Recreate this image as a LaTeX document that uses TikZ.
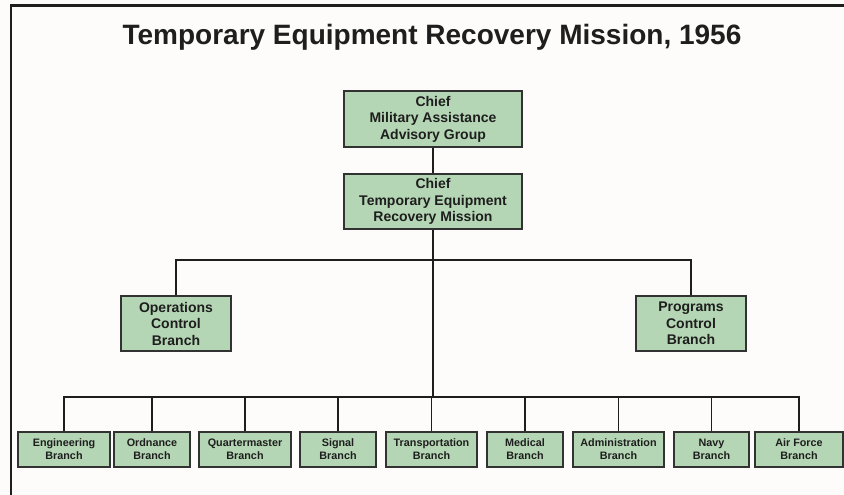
\documentclass[tikz,border=0pt]{standalone}
\usepackage{fontspec}
\setmainfont{Liberation Sans}
\definecolor{boxfill}{RGB}{180,214,180}
\definecolor{boxline}{RGB}{50,50,50}
\definecolor{bg}{RGB}{253,252,250}
\definecolor{ink}{RGB}{30,30,30}
\begin{document}
\begin{tikzpicture}[x=1pt,y=-1pt,
  bigbox/.style={draw=boxline, line width=1.3pt, fill=boxfill, inner sep=0pt, align=center,
    font=\fontsize{14}{16.5}\selectfont\bfseries, text=ink},
  smallbox/.style={draw=boxline, line width=1.3pt, fill=boxfill, inner sep=0pt, align=center,
    minimum height=35pt, font=\fontsize{10.8}{13}\selectfont\bfseries, text=ink},
  conn/.style={draw=ink, line width=1.8pt}]
\useasboundingbox (0,0) rectangle (844,495);
\fill[bg] (0,0) rectangle (844,495);
\draw[ink, line width=2.5pt] (11,495) -- (11,5.5) -- (844,5.5);
\node[font=\fontsize{28}{32}\selectfont\bfseries, text=ink] (title) at (432,37) {Temporary Equipment Recovery Mission, 1956};
% upper boxes
\node[bigbox, minimum width=178pt, minimum height=56pt] (maag) at (433,119) {Chief\\Military Assistance\\Advisory Group};
\node[bigbox, minimum width=178pt, minimum height=55pt] (term) at (433,201.5) {Chief\\Temporary Equipment\\Recovery Mission};
\node[bigbox, minimum width=110pt, minimum height=55pt] (ops) at (176,323.5) {Operations\\Control\\Branch};
\node[bigbox, minimum width=110pt, minimum height=55pt] (prog) at (691,323.5) {Programs\\Control\\Branch};
% bottom row
\node[smallbox, minimum width=92pt] (eng) at (64,449.5) {Engineering\\Branch};
\node[smallbox, minimum width=76pt] (ord) at (152,449.5) {Ordnance\\Branch};
\node[smallbox, minimum width=92pt] (qm) at (245,449.5) {Quartermaster\\Branch};
\node[smallbox, minimum width=76pt] (sig) at (338,449.5) {Signal\\Branch};
\node[smallbox, minimum width=91pt] (trans) at (431.5,449.5) {Transportation\\Branch};
\node[smallbox, minimum width=76pt] (med) at (525,449.5) {Medical\\Branch};
\node[smallbox, minimum width=91pt] (adm) at (618.5,449.5) {Administration\\Branch};
\node[smallbox, minimum width=75pt] (navy) at (711.5,449.5) {Navy\\Branch};
\node[smallbox, minimum width=88pt] (af) at (799,449.5) {Air Force\\Branch};
% connectors
\coordinate (bus) at (433,398);
\draw[conn] (maag.south) -- (term.north);
\draw[conn] (term.south) -- (bus);
\draw[conn] (ops.north) -- ++(0,-35) -| (prog.north);
\draw[conn] (eng.north) -- ++(0,-34) -| (af.north);
\foreach \n in {ord,qm,sig,trans,med,adm,navy}
  \draw[conn] (\n.north) -- (\n.north |- bus);
\end{tikzpicture}
\end{document}
